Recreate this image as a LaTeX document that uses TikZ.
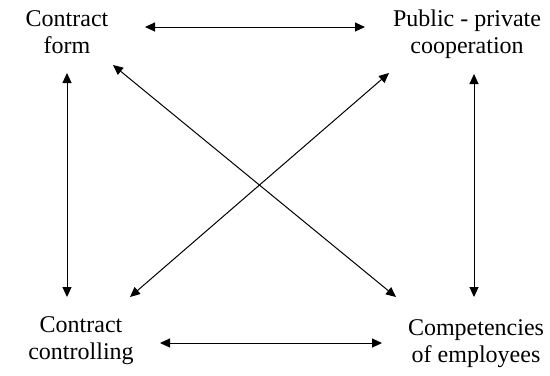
\documentclass[tikz,border=0pt]{standalone}
\usepackage{fontspec}
\setmainfont{Liberation Serif}
\usetikzlibrary{arrows.meta}

\begin{document}
\begin{tikzpicture}[x=0.5pt, y=-0.5pt, >={Triangle[length=5pt,width=4.5pt]},
  box/.style={align=center, inner sep=0pt, font=\fontsize{12}{13.5}\selectfont},
  link/.style={<->, line width=0.5pt}]
\useasboundingbox (0,0) rectangle (550,375);
\node[box] (form) at (67,32) {Contract\\form};
\node[box] (coop) at (467,34) {Public - private\\cooperation};
\node[box] (ctrl) at (81,341) {Contract\\controlling};
\node[box] (comp) at (476,344) {Competencies\\of employees};
% arrow ends beside the four labels
\coordinate (form-r) at (145,27);
\coordinate (form-d) at (67,73);
\coordinate (form-x) at (113,65);
\coordinate (coop-l) at (365,27);
\coordinate (coop-d) at (474,74);
\coordinate (coop-x) at (389,73);
\coordinate (ctrl-r) at (160,343);
\coordinate (ctrl-u) at (67,297);
\coordinate (ctrl-x) at (130,297);
\coordinate (comp-l) at (382,343);
\coordinate (comp-u) at (474,297);
\coordinate (comp-x) at (396,297);
\draw[link](form-r)--(coop-l);
\draw[link](ctrl-r)--(comp-l);
\draw[link](form-d)--(ctrl-u);
\draw[link](coop-d)--(comp-u);
\draw[link](form-x)--(comp-x);
\draw[link](coop-x)--(ctrl-x);
\end{tikzpicture}
\end{document}
